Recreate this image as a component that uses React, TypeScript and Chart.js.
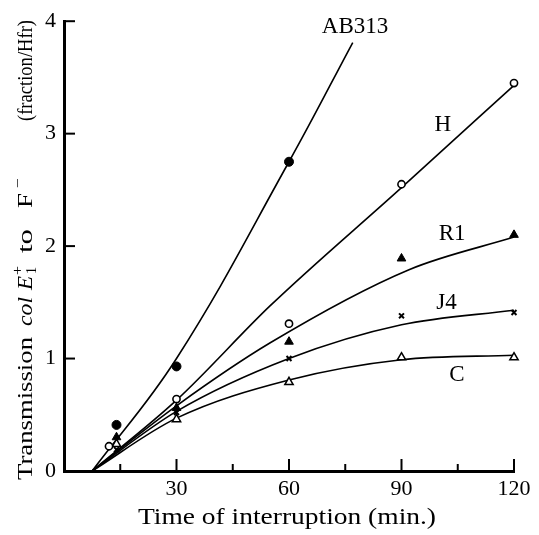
import React, { useEffect, useRef } from "react";
import { Chart, registerables } from "chart.js";

Chart.register(...registerables);

const FONT = '"Liberation Serif", "DejaVu Serif", serif';

// axis ticks
const xTickValues = [30, 60, 90, 120];
const xMinorTicks = [15, 45, 75, 105];
const yTickValues = [1, 2, 3, 4];

// measured points (min, fraction/Hfr)
const ab313X = [14, 30, 60];
const ab313Y = [0.41, 0.93, 2.75];
const hX = [12, 30, 60, 90, 120];
const hY = [0.22, 0.64, 1.31, 2.55, 3.45];
const r1X = [14, 30, 60, 90, 120];
const r1Y = [0.3, 0.56, 1.15, 1.89, 2.1];
const j4X = [14, 30, 60, 90, 120];
const j4Y = [0.19, 0.52, 1.0, 1.38, 1.41];
const cX = [14, 30, 60, 90, 120];
const cY = [0.24, 0.46, 0.79, 1.01, 1.01];

// hand-fitted curves
const ab313CurveX = [7.5, 30, 60, 77];
const ab313CurveY = [0, 1.0, 2.75, 3.81];
const hCurveX = [7.5, 30, 55, 90, 120];
const hCurveY = [0, 0.63, 1.47, 2.52, 3.43];
const r1CurveX = [7.5, 30, 55, 92, 120];
const r1CurveY = [0, 0.58, 1.14, 1.79, 2.08];
const j4CurveX = [7.5, 30, 60, 90, 120];
const j4CurveY = [0, 0.53, 1.0, 1.3, 1.43];
const cCurveX = [7.5, 30, 60, 90, 120];
const cCurveY = [0, 0.47, 0.81, 0.99, 1.03];

// curve labels (data coordinates)
const curveNames = ["AB313", "H", "R1", "J4", "C"];
const curveLabelX = [77.6, 101, 103.5, 102, 104.8];
const curveLabelY = [3.95, 3.08, 2.11, 1.49, 0.85];

const xTitle = "Time of interruption (min.)";

const zip = (xs: number[], ys: number[]) => xs.map((x, i) => ({ x, y: ys[i] }));

const curve = (xs: number[], ys: number[], mode: "monotone" | "default") => ({
  data: zip(xs, ys),
  showLine: true,
  borderColor: "#000",
  borderWidth: 1.6,
  pointRadius: 0,
  cubicInterpolationMode: mode,
  tension: 0.4,
  clip: false as any,
  order: 2,
});

const marks = (xs: number[], ys: number[], style: any, radius: number, fill: string, bw: number) => ({
  data: zip(xs, ys),
  showLine: false,
  pointStyle: style,
  pointRadius: radius,
  pointBackgroundColor: fill,
  pointBorderColor: "#000",
  pointBorderWidth: bw,
  clip: false as any,
  order: 1,
});

const decorPlugin = {
  id: "decor",
  afterDraw(chart: any) {
    const ctx = chart.ctx;
    const xs = chart.scales.x;
    const ys = chart.scales.y;
    const y0 = ys.getPixelForValue(0);
    const x0 = xs.getPixelForValue(0);
    ctx.save();
    ctx.strokeStyle = "#000";
    ctx.lineWidth = 2;
    xTickValues.forEach((v) => {
      const px = xs.getPixelForValue(v);
      ctx.beginPath();
      ctx.moveTo(px, y0);
      ctx.lineTo(px, y0 - 12);
      ctx.stroke();
    });
    xMinorTicks.forEach((v) => {
      const px = xs.getPixelForValue(v);
      ctx.beginPath();
      ctx.moveTo(px, y0);
      ctx.lineTo(px, y0 - 7);
      ctx.stroke();
    });
    yTickValues.forEach((v) => {
      const py = ys.getPixelForValue(v);
      ctx.beginPath();
      ctx.moveTo(x0, py);
      ctx.lineTo(x0 + 11, py);
      ctx.stroke();
    });

    // curve labels
    ctx.fillStyle = "#000";
    ctx.font = `23px ${FONT}`;
    ctx.textAlign = "center";
    ctx.textBaseline = "middle";
    curveNames.forEach((n, i) => {
      ctx.fillText(n, xs.getPixelForValue(curveLabelX[i]), ys.getPixelForValue(curveLabelY[i]));
    });

    // x title, stretched to the scanned width
    ctx.font = `23px ${FONT}`;
    const tw = ctx.measureText(xTitle).width;
    const cxm = (chart.chartArea.left + chart.chartArea.right) / 2 - 2;
    ctx.save();
    ctx.translate(cxm, 518);
    ctx.scale(298 / tw, 1);
    ctx.fillText(xTitle, 0, 0);
    ctx.restore();

    // y title (rotated, rich text); each piece fitted between screen rows
    const normal = `22px ${FONT}`;
    const italic = `italic 22px ${FONT}`;
    const small = `14px ${FONT}`;
    ctx.translate(26, 0);
    ctx.rotate(-Math.PI / 2);
    ctx.textAlign = "left";
    ctx.textBaseline = "middle";
    const put = (t: string, f: string, bottom: number, top: number, dy = 0) => {
      ctx.font = f;
      const w = ctx.measureText(t).width;
      ctx.save();
      ctx.translate(-bottom, dy);
      ctx.scale((bottom - top) / w, 1);
      ctx.fillText(t, 0, 0);
      ctx.restore();
    };
    put("Transmission", normal, 480, 337);
    put("col", italic, 326, 297);
    put("E", italic, 290, 276);
    put("1", small, 274, 267, 6);
    put("+", small, 275, 266, -8);
    put("to", normal, 253, 229);
    put("F", normal, 208, 193);
    put("\u2212", small, 188, 178, -8);
    put("(fraction/Hfr)", normal, 121, 20);
    ctx.restore();
  },
};

export default function App() {
  const ref = useRef<HTMLCanvasElement | null>(null);
  useEffect(() => {
    if (!ref.current) return;
    const chart = new Chart(ref.current, {
      type: "scatter",
      data: {
        datasets: [
          marks(ab313X, ab313Y, "circle", 4.5, "#000", 1),
          marks(hX, hY, "circle", 3.6, "#fff", 1.6),
          marks(r1X, r1Y, "triangle", 5, "#000", 1),
          marks(j4X, j4Y, "crossRot", 3.5, "#000", 2),
          marks(cX, cY, "triangle", 4.8, "#fff", 1.5),
          curve(ab313CurveX, ab313CurveY, "default"),
          curve(hCurveX, hCurveY, "monotone"),
          curve(r1CurveX, r1CurveY, "monotone"),
          curve(j4CurveX, j4CurveY, "monotone"),
          curve(cCurveX, cCurveY, "monotone"),
        ] as any,
      },
      options: {
        responsive: false,
        animation: false,
        devicePixelRatio: 1,
        layout: { padding: { left: 0, top: 17, right: 25, bottom: 0 } },
        plugins: { legend: { display: false }, tooltip: { enabled: false } },
        scales: {
          x: {
            type: "linear",
            min: 0,
            max: 120,
            afterFit: (s: any) => {
              s.height = 64;
            },
            grid: { display: false, drawTicks: false },
            border: { display: true, color: "#000", width: 3 },
            ticks: {
              stepSize: 30,
              padding: 5,
              color: "#000",
              font: { family: FONT, size: 22 },
              maxRotation: 0,
              callback: (v: any) => (v === 0 ? "" : String(v)),
            },
          },
          y: {
            type: "linear",
            min: 0,
            max: 4,
            afterFit: (s: any) => {
              s.width = 64;
            },
            grid: { display: false, drawTicks: false },
            border: { display: true, color: "#000", width: 3 },
            ticks: {
              stepSize: 1,
              padding: 8,
              color: "#000",
              font: { family: FONT, size: 22 },
            },
          },
        },
      },
      plugins: [decorPlugin],
    });
    return () => chart.destroy();
  }, []);
  return (
    <div style={{ position: "absolute", left: 0, top: 0, width: 539, height: 535, background: "#fff" }}>
      <canvas ref={ref} width={539} height={535} style={{ display: "block" }} />
    </div>
  );
}
